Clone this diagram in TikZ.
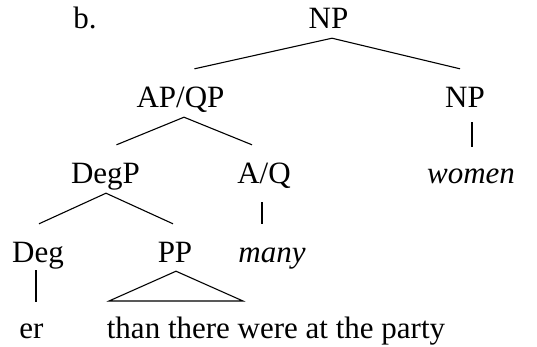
\documentclass[tikz,border=0pt]{standalone}
\usepackage{fontspec}
\setmainfont{Liberation Serif}
\begin{document}
\begin{tikzpicture}[x=1pt,y=1pt,
  cat/.style={anchor=base,inner xsep=0pt,inner ysep=10pt,text height=28pt,text depth=0pt,font=\fontsize{31}{37}\selectfont},
  branch/.style={line width=1.1pt}]
\useasboundingbox (0,0) rectangle (537,-346);
\node[cat] (lab) at (85,-28) {b.};
\node[cat] (np) at (328.5,-28) {NP};
\node[cat] (apqp) at (180.5,-107) {AP/QP};
\node[cat] (np2) at (465,-107) {NP};
\node[cat] (degp) at (105.5,-183) {DegP};
\node[cat] (aq) at (264,-183) {A/Q};
\node[cat] (women) at (471,-183) {\itshape women};
\node[cat] (deg) at (38,-262) {Deg};
\node[cat] (pp) at (175,-262) {PP};
\node[cat] (many) at (272,-262) {\itshape many};
\node[cat] (er) at (31.5,-338) {er};
\node[cat] (leaf) at (276,-338) {than there were at the party};
\coordinate (tl) at (109,-301);
\coordinate (tr) at (243,-301);
\draw[branch] ([xshift=14pt]apqp.north) -- ([xshift=3.5pt]np.south) -- ([xshift=-5pt]np2.north);
\draw[branch,shorten <=5pt,shorten >=-2pt] ([xshift=7pt]np2.south) -- ([xshift=1pt]women.north);
\draw[branch] ([xshift=11pt]degp.north) -- ([xshift=3.5pt]apqp.south) -- ([xshift=-12pt]aq.north);
\draw[branch,shorten <=9pt] ([xshift=-2pt]aq.south) -- ([xshift=-10pt]many.north);
\draw[branch] ([xshift=1pt]deg.north) -- ([xshift=0.5pt]degp.south) -- ([xshift=-2pt]pp.north);
\draw[branch,shorten <=-2pt,shorten >=-2pt] ([xshift=-2pt]deg.south) -- ([xshift=4.5pt]er.north);
\draw[branch] (tl) -- ([xshift=1pt,yshift=1pt]pp.south) -- (tr) -- cycle;
\end{tikzpicture}
\end{document}
